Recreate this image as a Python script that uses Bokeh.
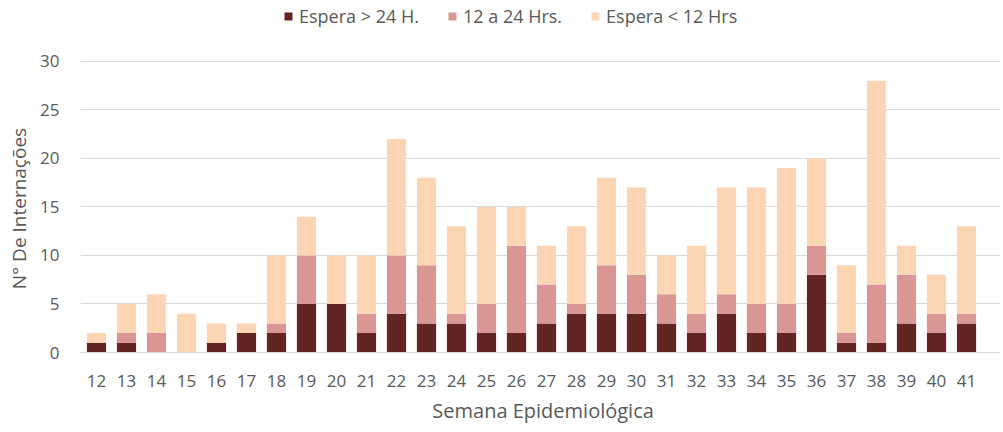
from bokeh.plotting import figure
from bokeh.models import ColumnDataSource, Range1d, FixedTicker, Legend, LegendItem
from bokeh.embed import file_html
from bokeh.resources import INLINE

weeks = [12, 13, 14, 15, 16, 17, 18, 19, 20, 21, 22, 23, 24, 25, 26,
         27, 28, 29, 30, 31, 32, 33, 34, 35, 36, 37, 38, 39, 40, 41]
espera_gt24 = [1, 1, 0, 0, 1, 2, 2, 5, 5, 2, 4, 3, 3, 2, 2,
               3, 4, 4, 4, 3, 2, 4, 2, 2, 8, 1, 1, 3, 2, 3]
espera_12a24 = [0, 1, 2, 0, 0, 0, 1, 5, 0, 2, 6, 6, 1, 3, 9,
                4, 1, 5, 4, 3, 2, 2, 3, 3, 3, 1, 6, 5, 2, 1]
espera_lt12 = [1, 3, 4, 4, 2, 1, 7, 4, 5, 6, 12, 9, 9, 10, 4,
               4, 8, 9, 9, 4, 7, 11, 12, 14, 9, 7, 21, 3, 4, 9]
series_names = ["Espera > 24 H.", "12 a 24 Hrs.", "Espera < 12 Hrs"]
colors = ["#632523", "#D99694", "#FCD5B5"]
y_ticks = [0, 5, 10, 15, 20, 25, 30]

FONT = "Open Sans"
GREY = "#595959"
NBSP = "\u00a0"

src = ColumnDataSource(dict(week=weeks, a=espera_gt24, b=espera_12a24, c=espera_lt12))

p = figure(width=1000, height=426, output_backend="svg", toolbar_location=None,
           x_range=Range1d(11.467, 42.133), y_range=Range1d(0, 36.27),
           min_border_left=80, min_border_right=0, min_border_top=0, min_border_bottom=63)

renderers = p.vbar_stack(["a", "b", "c"], x="week", width=0.64, source=src,
                         color=colors, line_color=None)

p.outline_line_color = None
p.background_fill_color = "white"

p.xgrid.grid_line_color = None
p.ygrid.grid_line_color = "#D9D9D9"
p.ygrid.grid_line_width = 1
p.ygrid.ticker = FixedTicker(ticks=y_ticks)

p.xaxis.ticker = FixedTicker(ticks=weeks)
p.xaxis.axis_line_color = "#D9D9D9"
p.xaxis.major_tick_line_color = None
p.xaxis.minor_tick_line_color = None
p.xaxis.major_label_text_font = FONT
p.xaxis.major_label_text_font_size = "17px"
p.xaxis.major_label_text_color = GREY
p.xaxis.major_label_standoff = 16
p.xaxis.axis_label = NBSP + "Semana Epidemiológica"
p.xaxis.axis_label_text_font = FONT
p.xaxis.axis_label_text_font_size = "20px"
p.xaxis.axis_label_text_font_style = "normal"
p.xaxis.axis_label_text_color = GREY
p.xaxis.axis_label_standoff = 7

p.yaxis.ticker = FixedTicker(ticks=y_ticks)
p.yaxis.bounds = (0, 30)
p.yaxis.axis_line_color = None
p.yaxis.major_tick_line_color = None
p.yaxis.minor_tick_line_color = None
p.yaxis.major_label_text_font = FONT
p.yaxis.major_label_text_font_size = "17px"
p.yaxis.major_label_text_color = GREY
p.yaxis.major_label_standoff = 15
p.yaxis.axis_label = "N° De Internações" + NBSP * 13
p.yaxis.axis_label_text_font = FONT
p.yaxis.axis_label_text_font_size = "19px"
p.yaxis.axis_label_text_font_style = "normal"
p.yaxis.axis_label_text_color = GREY
p.yaxis.axis_label_standoff = 5

legend = Legend(items=[LegendItem(label=n, renderers=[r]) for n, r in zip(series_names, renderers)],
                orientation="horizontal", location=(203, 324),
                padding=0, margin=0, spacing=28, glyph_width=10, glyph_height=10,
                label_standoff=6, label_text_font=FONT, label_text_font_size="18px",
                label_text_color=GREY, border_line_color=None, background_fill_alpha=0)
p.add_layout(legend, "center")

open("out.html", "w").write(file_html(p, INLINE))
